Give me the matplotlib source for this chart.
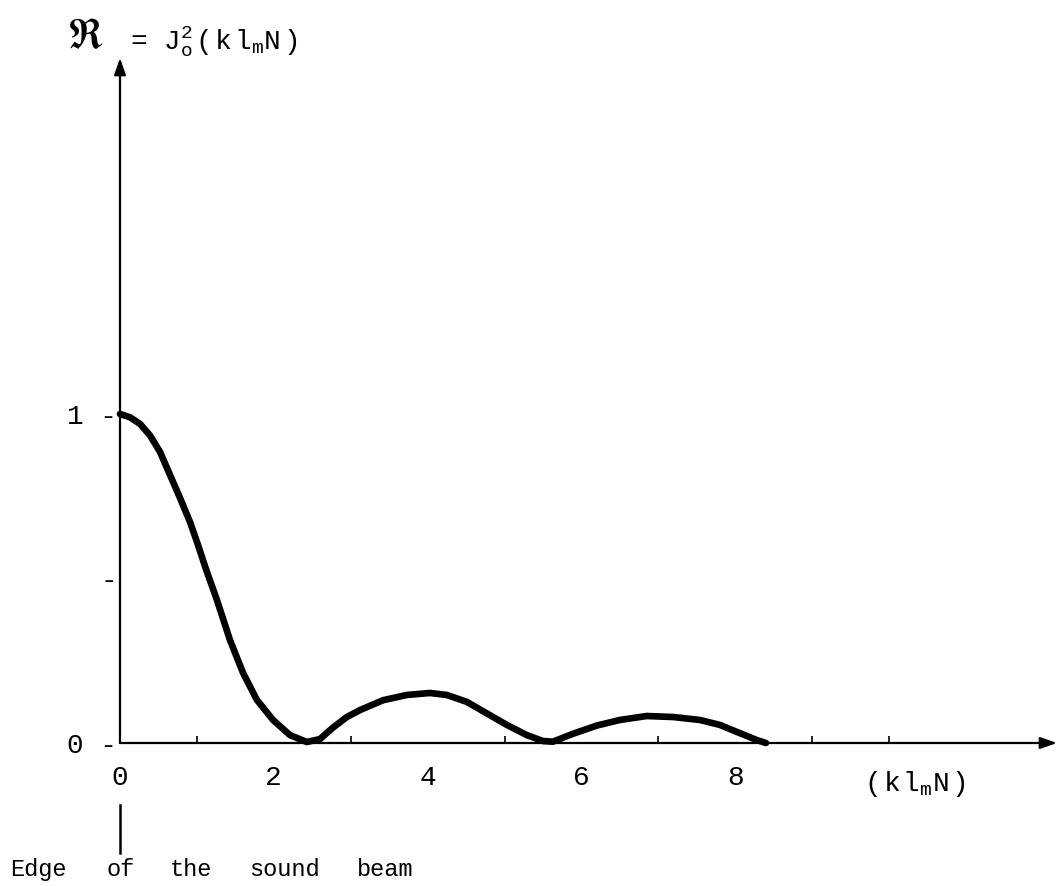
import matplotlib
matplotlib.use("Agg")
import matplotlib.pyplot as plt

# curve: R = J0^2(k l_m N)
kl = [0.0, 0.13, 0.26, 0.39, 0.52, 0.65, 0.78, 0.91, 1.01, 1.12, 1.26, 1.43,
      1.60, 1.78, 1.99, 2.21, 2.43, 2.60, 2.77, 2.95, 3.12, 3.42, 3.73, 4.03,
      4.25, 4.51, 4.77, 5.03, 5.29, 5.50, 5.63, 5.89, 6.20, 6.50, 6.85, 7.19,
      7.54, 7.80, 8.06, 8.28, 8.40]
R = [1.0, 0.99, 0.97, 0.935, 0.885, 0.815, 0.745, 0.672, 0.605, 0.527, 0.435, 0.313,
     0.213, 0.131, 0.07, 0.024, 0.003, 0.012, 0.047, 0.079, 0.10, 0.13, 0.146, 0.152,
     0.146, 0.125, 0.09, 0.055, 0.024, 0.006, 0.004, 0.028, 0.053, 0.07, 0.082, 0.079,
     0.07, 0.055, 0.03, 0.009, 0.0]

xlabels = [0, 2, 4, 6, 8]
xminor = [1, 3, 5, 7, 9, 10]
yticks = [0, 0.5, 1]
ylabels = ['0 -', '-', '1 -']

# words of the note under the axis and where they start (px)
note_words = ['Edge', 'of', 'the', 'sound', 'beam']
note_x = [10, 106, 170, 249, 357]

mono = 'Liberation Mono'
plt.rcParams['font.family'] = [mono, 'DejaVu Sans']
plt.rcParams['mathtext.fontset'] = 'custom'
plt.rcParams['mathtext.rm'] = mono
plt.rcParams['mathtext.it'] = mono

W, H = 1057, 886
fig = plt.figure(figsize=(W / 100, H / 100), dpi=100)
# axes: x=0 at px 120, y=0 at py 743, 76.9 px per x unit, 329 px per y unit
ax = fig.add_axes([120 / W, (H - 743) / H, 930 / W, 681 / H])
ax.set_xlim(0, 930 / 76.9)
ax.set_ylim(0, 681 / 329)

ax.plot(kl, R, color='black', lw=4.8, solid_joinstyle='round',
        solid_capstyle='round', clip_on=False, zorder=3)

for s in ax.spines.values():
    s.set_visible(False)

# axes with arrow heads
ax.annotate('', xy=((1057 - 120) / 76.9, 0), xytext=(0, 0),
            arrowprops=dict(arrowstyle='-|>,head_length=1.0,head_width=0.35',
                            lw=1.6, color='black', shrinkA=0, shrinkB=0),
            annotation_clip=False)
ax.annotate('', xy=(0, (743 - 58) / 329), xytext=(0, 0),
            arrowprops=dict(arrowstyle='-|>,head_length=1.0,head_width=0.35',
                            lw=1.6, color='black', shrinkA=0, shrinkB=0),
            annotation_clip=False)

ax.set_xticks(xlabels)
ax.set_xticklabels([str(v) for v in xlabels])
ax.set_xticks(xminor, minor=True)
ax.tick_params(axis='x', which='both', direction='in', length=5, width=1.2,
               pad=16, labelsize=20)
ax.tick_params(axis='x', which='major', length=0)

ax.set_yticks(yticks)
ax.set_yticklabels(ylabels)
ax.tick_params(axis='y', length=0, pad=2, labelsize=20)

# title formula
fig.text(68 / W, 1 - 38 / H, '\u211c', fontsize=30,
         family=['STIXGeneral', 'DejaVu Sans'], va='center', ha='left')
fig.text(130 / W, 1 - 42 / H,
         r'= $\mathrm{J}_\mathrm{o}^2\,(\,\mathrm{k}\,\mathrm{l}_\mathrm{m}\mathrm{N}\,)$',
         fontsize=20, va='center', ha='left')

# x axis label
fig.text(864 / W, 1 - 784 / H, r'$(\,\mathrm{k}\,\mathrm{l}_\mathrm{m}\mathrm{N}\,)$',
         fontsize=20, va='center', ha='left')

# edge marker
fig.add_artist(plt.Line2D([120 / W, 120 / W], [1 - 805 / H, 1 - 853 / H],
                          color='black', lw=1.8))
for word, px in zip(note_words, note_x):
    fig.text(px / W, 1 - 876 / H, word, fontsize=17, va='baseline', ha='left')

fig.savefig('out.png', dpi=100, facecolor='white')
